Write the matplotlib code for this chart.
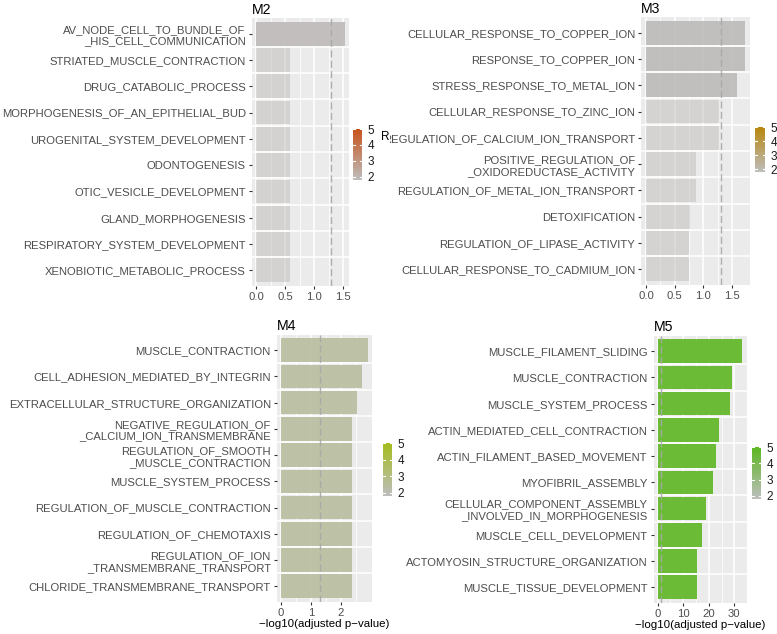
import numpy as np
import matplotlib
matplotlib.use("Agg")
import matplotlib.pyplot as plt
from matplotlib.colors import LinearSegmentedColormap, Normalize
from matplotlib.patches import Rectangle

plt.rcParams['font.family'] = ['Liberation Sans', 'DejaVu Sans']

# ---------------- data ----------------
m2_terms = ["AV_NODE_CELL_TO_BUNDLE_OF\n_HIS_CELL_COMMUNICATION", "STRIATED_MUSCLE_CONTRACTION",
            "DRUG_CATABOLIC_PROCESS", "MORPHOGENESIS_OF_AN_EPITHELIAL_BUD",
            "UROGENITAL_SYSTEM_DEVELOPMENT", "ODONTOGENESIS", "OTIC_VESICLE_DEVELOPMENT",
            "GLAND_MORPHOGENESIS", "RESPIRATORY_SYSTEM_DEVELOPMENT", "XENOBIOTIC_METABOLIC_PROCESS"]
m2_vals = [1.53, 0.58, 0.58, 0.58, 0.58, 0.58, 0.58, 0.58, 0.58, 0.58]
m2_rich = [1.9, 1.9, 1.9, 1.9, 1.9, 1.9, 1.9, 1.9, 1.9, 1.9]

m3_terms = ["CELLULAR_RESPONSE_TO_COPPER_ION", "RESPONSE_TO_COPPER_ION", "STRESS_RESPONSE_TO_METAL_ION",
            "CELLULAR_RESPONSE_TO_ZINC_ION", "REGULATION_OF_CALCIUM_ION_TRANSPORT",
            "POSITIVE_REGULATION_OF\n_OXIDOREDUCTASE_ACTIVITY", "REGULATION_OF_METAL_ION_TRANSPORT",
            "DETOXIFICATION", "REGULATION_OF_LIPASE_ACTIVITY", "CELLULAR_RESPONSE_TO_CADMIUM_ION"]
m3_vals = [1.72, 1.72, 1.59, 1.27, 1.27, 0.87, 0.87, 0.76, 0.75, 0.75]
m3_rich = [1.9, 1.9, 1.9, 1.9, 1.9, 1.9, 1.9, 1.9, 1.9, 1.9]

m4_terms = ["MUSCLE_CONTRACTION", "CELL_ADHESION_MEDIATED_BY_INTEGRIN",
            "EXTRACELLULAR_STRUCTURE_ORGANIZATION", "NEGATIVE_REGULATION_OF\n_CALCIUM_ION_TRANSMEMBRANE",
            "REGULATION_OF_SMOOTH\n_MUSCLE_CONTRACTION", "MUSCLE_SYSTEM_PROCESS",
            "REGULATION_OF_MUSCLE_CONTRACTION", "REGULATION_OF_CHEMOTAXIS",
            "REGULATION_OF_ION\n_TRANSMEMBRANE_TRANSPORT", "CHLORIDE_TRANSMEMBRANE_TRANSPORT"]
m4_vals = [2.89, 2.71, 2.52, 2.36, 2.36, 2.36, 2.36, 2.36, 2.36, 2.36]
m4_rich = [2.4, 2.4, 2.4, 2.4, 2.4, 2.4, 2.4, 2.4, 2.4, 2.4]

m5_terms = ["MUSCLE_FILAMENT_SLIDING", "MUSCLE_CONTRACTION", "MUSCLE_SYSTEM_PROCESS",
            "ACTIN_MEDIATED_CELL_CONTRACTION", "ACTIN_FILAMENT_BASED_MOVEMENT", "MYOFIBRIL_ASSEMBLY",
            "CELLULAR_COMPONENT_ASSEMBLY\n_INVOLVED_IN_MORPHOGENESIS", "MUSCLE_CELL_DEVELOPMENT",
            "ACTOMYOSIN_STRUCTURE_ORGANIZATION", "MUSCLE_TISSUE_DEVELOPMENT"]
m5_vals = [33.1, 29.2, 28.3, 24.1, 22.8, 21.8, 18.9, 17.5, 15.5, 15.4]
m5_rich = [4.8, 4.8, 4.8, 4.8, 4.8, 4.8, 4.8, 4.8, 4.8, 4.8]

panel_titles = ["M2", "M3", "M4", "M5"]
high_colors = ["#C8531A", "#B8860B", "#A4BC1C", "#5BB71E"]
low_color = "#BEBEBE"
x_ticks = [[0, 0.5, 1.0, 1.5], [0, 0.5, 1.0, 1.5], [0, 1, 2], [0, 10, 20, 30]]
x_ticklabels = [["0.0", "0.5", "1.0", "1.5"], ["0.0", "0.5", "1.0", "1.5"], ["0", "1", "2"], ["0", "10", "20", "30"]]
x_minor = [[0.25, 0.75, 1.25], [0.25, 0.75, 1.25], [0.5, 1.5, 2.5], [5, 15, 25]]
cbar_ticks = [2, 3, 4, 5]
cut_off = 1.30103  # -log10(0.05)
xlabel = "\u2212log10(adjusted p\u2212value)"

# ---------------- layout (pixels) ----------------
W, H = 777, 634
fig = plt.figure(figsize=(W / 100, H / 100), dpi=100)

def px_axes(left, top, right, bottom):
    return fig.add_axes([left / W, 1 - bottom / H, (right - left) / W, (bottom - top) / H])

left_clip = Rectangle((0, 0), 390 / W, 1, transform=fig.transFigure)
right_clip = Rectangle((390 / W, 0), 1, 1, transform=fig.transFigure)

panels = [
    dict(terms=m2_terms, vals=m2_vals, rich=m2_rich, box=(251.6, 18, 349.2, 286),
         cbar=(353, 129, 362, 180), xl=False, clip=left_clip),
    dict(terms=m3_terms, vals=m3_vals, rich=m3_rich, box=(641.0, 17, 749.8, 285),
         cbar=(755, 127, 765, 172), xl=False, clip=right_clip),
    dict(terms=m4_terms, vals=m4_vals, rich=m4_rich, box=(276.7, 334.5, 372.0, 602),
         cbar=(383, 443, 392, 496), xl=True, clip=None),
    dict(terms=m5_terms, vals=m5_vals, rich=m5_rich, box=(653.5, 335.5, 746.5, 603),
         cbar=(752, 447, 761, 499), xl=True, clip=None),
]

vmin, vmax = 1.8, 5.0
norm = Normalize(vmin=vmin, vmax=vmax)

for i, p in enumerate(panels):
    cmap = LinearSegmentedColormap.from_list("c%d" % i, [low_color, high_colors[i]])
    ax = px_axes(*p["box"])
    ax.set_facecolor("#EBEBEB")
    n = len(p["terms"])
    ypos = np.arange(n)
    vmaxv = max(p["vals"])
    ax.set_xlim(-0.05 * vmaxv, 1.05 * vmaxv)
    ax.set_ylim(n - 0.4, -0.6)
    # grid
    for xm in x_minor[i]:
        ax.axvline(xm, color="white", lw=0.55, zorder=0.5)
    for xt in x_ticks[i]:
        ax.axvline(xt, color="white", lw=1.1, zorder=0.6)
    for yb in ypos[:-1] + 0.5:
        ax.axhline(yb, color="white", lw=1.1, zorder=0.6)
    # bars
    colors = [cmap(norm(r)) for r in p["rich"]]
    alphas = [0.92 if v > cut_off else 0.5 for v in p["vals"]]
    for y, v, c, a in zip(ypos, p["vals"], colors, alphas):
        ax.barh(y, v, height=0.9, color=c, alpha=a, zorder=2, linewidth=0)
    ax.axvline(cut_off, color="#A8A8A8", lw=1.0, dashes=(5, 2.5), zorder=3, alpha=0.9)
    for s in ax.spines.values():
        s.set_visible(False)
    ax.set_yticks(ypos)
    ax.set_yticklabels(p["terms"], fontsize=8.1, color="#4D4D4D", linespacing=1.2)
    ax.set_xticks(x_ticks[i])
    ax.set_xticklabels(x_ticklabels[i], fontsize=8.1, color="#4D4D4D")
    ax.tick_params(axis="both", length=2.2, width=0.8, color="#333333", pad=2)
    ax.set_title(panel_titles[i], loc="left", fontsize=10.2, color="black", pad=3, x=0.0)
    if p["xl"]:
        ax.set_xlabel(xlabel, fontsize=8.25, color="black", labelpad=1)
    if p["clip"] is not None:
        for lbl in ax.get_yticklabels():
            lbl.set_clip_path(p["clip"])
    # colorbar
    cax = px_axes(*p["cbar"])
    grad = np.linspace(vmin, vmax, 256)[:, None]
    cax.imshow(grad, aspect="auto", cmap=cmap, norm=norm, origin="lower",
               extent=[0, 1, vmin, vmax])
    cax.set_xlim(0, 1)
    cax.set_ylim(vmin, vmax)
    for t in cbar_ticks:
        cax.plot([0, 0.2], [t, t], color="white", lw=0.8)
        cax.plot([0.8, 1], [t, t], color="white", lw=0.8)
    for s in cax.spines.values():
        s.set_visible(False)
    cax.set_xticks([])
    cax.yaxis.tick_right()
    cax.set_yticks(cbar_ticks)
    cax.set_yticklabels([str(t) for t in cbar_ticks], fontsize=8.5, color="#1A1A1A")
    cax.tick_params(axis="y", length=0, pad=4)

# legend title of M2, hidden behind the neighbouring panel
t = fig.text(381 / W, 1 - 137 / H, "RichFactor", fontsize=8.5, color="black", va="center", ha="left")
t.set_clip_path(left_clip)

fig.savefig("out.png", dpi=100, facecolor="white")
